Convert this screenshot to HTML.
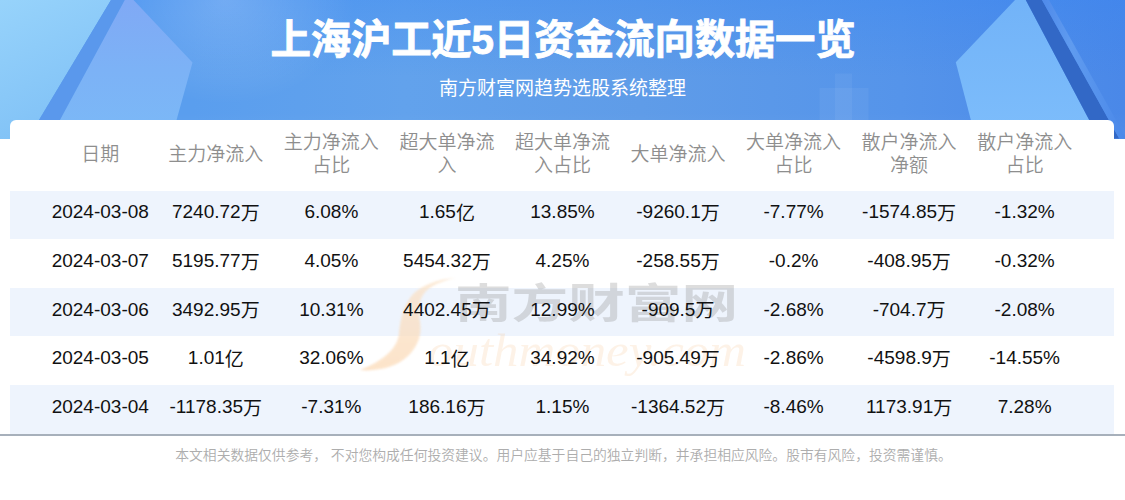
<!DOCTYPE html>
<html lang="zh-CN"><head><meta charset="utf-8"><title>上海沪工近5日资金流向数据一览</title>
<style>
*{margin:0;padding:0;box-sizing:border-box}
html,body{width:1125px;height:500px;overflow:hidden;background:#fff}
body{position:relative;font-family:"Liberation Sans","Noto Sans CJK SC",sans-serif;color:#111}
#hdr{position:absolute;left:0;top:0}
.title{position:absolute;left:0.5px;top:11.5px;letter-spacing:-0.21px;width:1125px;text-align:center;color:#fff;font-size:40.4px;font-weight:700;-webkit-text-stroke:0.8px #fff;line-height:56px;white-space:nowrap}
.sub{position:absolute;left:0;top:77px;width:1125px;text-align:center;color:#fff;font-size:19px;line-height:24px;white-space:nowrap}
.card{position:absolute;left:10px;top:120px;width:1104px;height:315px;background:#fff;border-radius:6px 6px 0 0}
.row{position:absolute;left:10px;width:1104px;height:48.7px;display:flex;padding-left:32.5px}
.bgs{position:absolute;left:10px;width:1104px;height:48.3px;background:#eef4fd}
.row div{width:115.56px;flex:none;text-align:center;white-space:nowrap;font-size:19px;line-height:48.7px;position:relative;top:-2.3px}
.row i{font-style:normal;position:relative;top:1.5px}
.hd{top:120px;height:71px;color:#8e8e8e;font-weight:350}
.hd div{line-height:23px;display:flex;align-items:center;justify-content:center;height:71px;font-size:19px;top:-1.3px}
.line{position:absolute;left:0;top:434px;width:1125px;height:2px;background:#a7b0bb}
.foot{position:absolute;left:1px;top:446px;width:1125px;text-align:center;color:#adadad;font-weight:350;font-size:13.8px;line-height:20px;white-space:nowrap}
.wm{position:absolute;left:0;top:0}
</style></head><body>
<svg id="hdr" width="1125" height="138.5" viewBox="0 0 1125 138.5" preserveAspectRatio="none">
<defs>
<linearGradient id="bg" x1="0" y1="0" x2="1125" y2="0" gradientUnits="userSpaceOnUse">
<stop offset="0.17" stop-color="#5a9eee"/>
<stop offset="0.36" stop-color="#62a2ec"/>
<stop offset="0.57" stop-color="#5f9ce8"/>
<stop offset="0.8" stop-color="#5594ea"/>
<stop offset="1" stop-color="#4a88e8"/>
</linearGradient>
<linearGradient id="vg" x1="0" y1="0" x2="0" y2="140" gradientUnits="userSpaceOnUse">
<stop offset="0" stop-color="#3082f5" stop-opacity="0.28"/>
<stop offset="0.55" stop-color="#3082f5" stop-opacity="0"/>
<stop offset="0.8" stop-color="#ffffff" stop-opacity="0"/>
<stop offset="1" stop-color="#ffffff" stop-opacity="0.04"/>
</linearGradient>
<radialGradient id="gl" cx="225" cy="0" r="130" gradientUnits="userSpaceOnUse" gradientTransform="translate(225 0) scale(1 0.8) translate(-225 0)">
<stop offset="0" stop-color="#ffffff" stop-opacity="0.2"/>
<stop offset="1" stop-color="#ffffff" stop-opacity="0"/>
</radialGradient>
<linearGradient id="lt" x1="0" y1="0" x2="0.4" y2="1">
<stop offset="0" stop-color="#97d3fb"/>
<stop offset="1" stop-color="#80c1f6"/>
</linearGradient>
<linearGradient id="lp" x1="0" y1="0" x2="0" y2="1">
<stop offset="0" stop-color="#80a9f5"/>
<stop offset="0.5" stop-color="#7cb2f6"/>
<stop offset="1" stop-color="#7bb9f7"/>
</linearGradient>
<linearGradient id="rp" x1="0" y1="0" x2="0" y2="1">
<stop offset="0" stop-color="#72b3f8"/>
<stop offset="1" stop-color="#7dbdfb"/>
</linearGradient>
<linearGradient id="hl" x1="0" y1="0" x2="1" y2="0"><stop offset="0" stop-color="#4f8aea"/><stop offset="0.35" stop-color="#5f9bef"/><stop offset="1" stop-color="#4a88e9"/></linearGradient>
<linearGradient id="rs" x1="0" y1="0" x2="1" y2="0">
<stop offset="0" stop-color="#3a6dd0"/>
<stop offset="0.7" stop-color="#3c71d4"/>
<stop offset="1" stop-color="#4a86e6"/>
</linearGradient>
</defs>
<rect width="1125" height="140" fill="url(#bg)"/>
<rect width="1125" height="140" fill="url(#vg)"/>
<rect width="1125" height="140" fill="url(#gl)"/>
<polygon points="0,0 111,0 39,120 27,140 0,140" fill="url(#lt)"/>
<polygon points="111,0 124.8,0 49.2,140 27,140" fill="#5a98ec"/>
<polygon points="124.8,0 133.5,0 192.5,62.4 171,140 49.2,140" fill="url(#lp)"/>
<polygon points="1015,0 1025.8,0 1099,138.5 975.7,138.5 955.8,62.2" fill="url(#rp)"/>
<polygon points="1025.8,0 1042,0 1119.2,138.5 1099,138.5" fill="#3268c6"/>
<polygon points="1042,0 1049,0 1126.2,138.5 1119.2,138.5" fill="url(#hl)"/>
<rect x="835" y="73.6" width="17" height="47" fill="#fff" fill-opacity="0.05"/>
<rect x="819.6" y="88" width="49" height="32" fill="#fff" fill-opacity="0.05"/>
</svg>
<div class="title">上海沪工近5日资金流向数据一览</div>
<div class="sub">南方财富网趋势选股系统整理</div>
<div class="card"></div>
<div class="bgs" style="top:190.6px"></div>
<div class="bgs" style="top:288px"></div>
<div class="bgs" style="top:385.4px;height:48.6px"></div>
<svg class="wm" width="1125" height="500" viewBox="0 0 1125 500">
<defs><filter id="bl" x="-20%" y="-20%" width="140%" height="140%"><feGaussianBlur stdDeviation="0.8"/></filter><linearGradient id="sg" x1="0" y1="0" x2="0" y2="1"><stop offset="0" stop-color="#fbe2c6"/><stop offset="1" stop-color="#fcd9b4"/></linearGradient></defs>
<path d="M455,278 C438,279 418,286 410,298 C402,310 400,322 399,334 C397,348 385,360 360,370 C378,372 398,366 408,356 C418,346 422,335 420,322 C418,310 418,300 426,291 C434,284 445,280 455,278 Z" fill="url(#sg)" opacity="0.7" filter="url(#bl)"/>
<text x="455" y="318" font-family="Noto Sans CJK SC, sans-serif" font-weight="700" font-size="41" fill="#909090" fill-opacity="0.3" textLength="283" lengthAdjust="spacingAndGlyphs">南方财富网</text>
<text x="428" y="366" font-family="Liberation Serif, serif" font-style="italic" font-size="46" fill="#f6c690" fill-opacity="0.22" textLength="318" lengthAdjust="spacingAndGlyphs">outhmoney.com</text>
</svg>
<div class="row hd"><div>日期</div><div>主力净流入</div><div>主力净流入<br>占比</div><div>超大单净流<br>入</div><div>超大单净流<br>入占比</div><div>大单净流入</div><div>大单净流入<br>占比</div><div>散户净流入<br>净额</div><div>散户净流入<br>占比</div></div>
<div class="row" style="top:190.6px"><div>2024-03-08</div><div>7240.72<i>万</i></div><div>6.08%</div><div>1.65<i>亿</i></div><div>13.85%</div><div>-9260.1<i>万</i></div><div>-7.77%</div><div>-1574.85<i>万</i></div><div>-1.32%</div></div>
<div class="row" style="top:239.3px"><div>2024-03-07</div><div>5195.77<i>万</i></div><div>4.05%</div><div>5454.32<i>万</i></div><div>4.25%</div><div>-258.55<i>万</i></div><div>-0.2%</div><div>-408.95<i>万</i></div><div>-0.32%</div></div>
<div class="row" style="top:288.0px"><div>2024-03-06</div><div>3492.95<i>万</i></div><div>10.31%</div><div>4402.45<i>万</i></div><div>12.99%</div><div>-909.5<i>万</i></div><div>-2.68%</div><div>-704.7<i>万</i></div><div>-2.08%</div></div>
<div class="row" style="top:336.7px"><div>2024-03-05</div><div>1.01<i>亿</i></div><div>32.06%</div><div>1.1<i>亿</i></div><div>34.92%</div><div>-905.49<i>万</i></div><div>-2.86%</div><div>-4598.9<i>万</i></div><div>-14.55%</div></div>
<div class="row" style="top:385.4px"><div>2024-03-04</div><div>-1178.35<i>万</i></div><div>-7.31%</div><div>186.16<i>万</i></div><div>1.15%</div><div>-1364.52<i>万</i></div><div>-8.46%</div><div>1173.91<i>万</i></div><div>7.28%</div></div>

<div class="line"></div>
<div class="foot">本文相关数据仅供参考， 不对您构成任何投资建议。用户应基于自己的独立判断，并承担相应风险。股市有风险，投资需谨慎。</div>
</body></html>
